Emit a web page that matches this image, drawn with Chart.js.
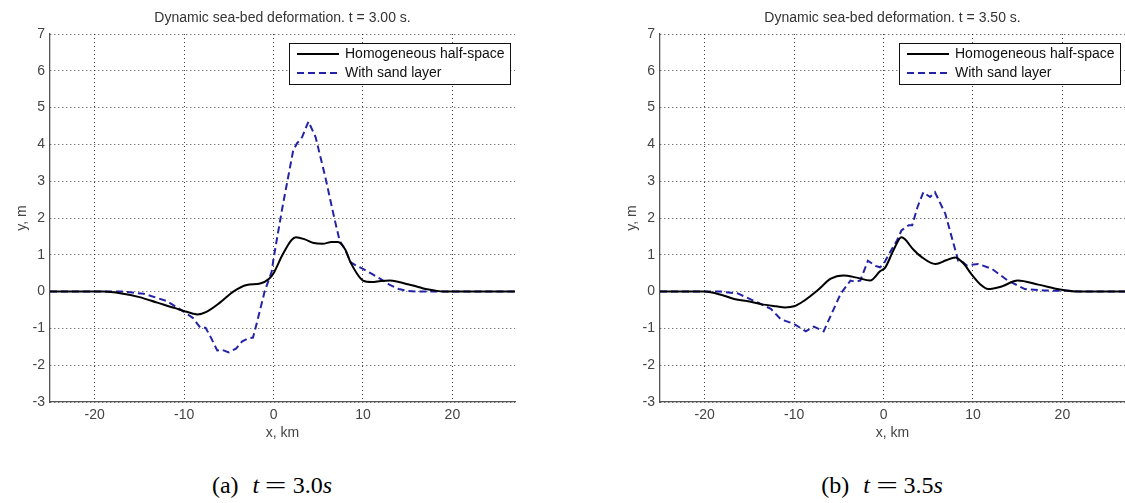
<!DOCTYPE html>
<html>
<head>
<meta charset="utf-8">
<script src="https://cdn.jsdelivr.net/npm/chart.js@4.4.0/dist/chart.umd.min.js"></script>
<style>
  html, body { margin: 0; padding: 0; background: #fff; }
  body { width: 1125px; height: 503px; position: relative; overflow: hidden; }
  .panel { position: absolute; top: 0; height: 450px; }
  #panelA { left: 0; width: 560px; }
  #panelB { left: 560px; width: 565px; }
  .caption {
    position: absolute; top: 472px;
    font-family: 'Liberation Serif', serif; font-size: 24px; color: #000;
    transform: translateX(-50%); white-space: nowrap;
  }
  .caption .sep { display: inline-block; width: 14px; }
  .caption .eq { display: inline-block; margin: 0 10px; transform: scaleX(1.6); }
</style>
</head>
<body>
<div class="panel" id="panelA"><canvas id="chartA"></canvas></div>
<div class="panel" id="panelB"><canvas id="chartB"></canvas></div>
<div class="caption" style="left:272px">(a)<span class="sep"></span><i>t</i><span class="eq">=</span>3.0<i>s</i></div>
<div class="caption" style="left:882px">(b)<span class="sep"></span><i>t</i><span class="eq">=</span>3.5<i>s</i></div>

<script>
// Datos (x en km, y en m)
const serieNombres = ['Homogeneous half-space', 'With sand layer'];
const xTicks = [-20, -10, 0, 10, 20];

// (a) t = 3.0 s
const homA_x = [-25, -19, -17, -15, -13, -11, -10, -9, -8.5, -7.5, -6, -4.5, -3, -1.5, -0.5, 0, 1, 2, 2.5, 3.5, 4.5, 5.5, 6.5, 7.2, 8, 8.6, 9.3, 10, 11, 12, 13, 14, 15, 16, 17, 18, 19, 27];
const homA_y = [0, 0, -0.05, -0.15, -0.3, -0.45, -0.53, -0.6, -0.62, -0.55, -0.3, 0, 0.18, 0.22, 0.35, 0.5, 1.0, 1.4, 1.48, 1.42, 1.32, 1.3, 1.35, 1.35, 1.15, 0.8, 0.5, 0.3, 0.26, 0.29, 0.3, 0.26, 0.2, 0.14, 0.07, 0.03, 0, 0];
const sandA_x = [-25, -19, -17, -16, -14.5, -12, -10, -9, -8.2, -7.6, -7, -6.3, -5.8, -5, -4.2, -3.5, -2.8, -2.3, -1.9, -1, -0.2, 0, 1, 2.2, 2.6, 3.2, 3.9, 4.7, 5.8, 6.7, 7.4, 8, 8.6, 9.3, 10, 11, 12, 13, 14, 15, 16, 27];
const sandA_y = [0, 0, 0, -0.02, -0.06, -0.25, -0.55, -0.72, -0.98, -0.98, -1.25, -1.6, -1.58, -1.65, -1.55, -1.35, -1.27, -1.25, -0.88, 0, 0.55, 0.9, 2.3, 3.84, 4.02, 4.2, 4.62, 4.2, 3.1, 2.1, 1.37, 1.15, 0.8, 0.7, 0.62, 0.48, 0.34, 0.18, 0.07, 0.02, 0, 0];

// (b) t = 3.5 s
const homB_x = [-25, -20, -18, -16.7, -15, -13.7, -12, -11, -10, -8.9, -7.4, -5.9, -4.5, -3, -1.5, -0.4, 0.2, 1.1, 2, 2.4, 3.3, 4.3, 5.8, 7, 8, 9, 9.8, 10.8, 11.7, 13.2, 15, 17.3, 19.9, 21.8, 27];
const homB_y = [0, 0, -0.1, -0.2, -0.27, -0.34, -0.4, -0.43, -0.4, -0.25, 0.03, 0.35, 0.44, 0.38, 0.3, 0.55, 0.66, 1.12, 1.48, 1.42, 1.15, 0.93, 0.75, 0.85, 0.93, 0.75, 0.48, 0.2, 0.07, 0.14, 0.3, 0.19, 0.05, 0, 0];
const sandB_x = [-25, -19, -18.2, -16.3, -14.5, -12.6, -11.5, -10, -8.7, -7.8, -6.7, -5.9, -4.8, -3.7, -3.2, -2.6, -1.75, -0.9, -0.4, 0, 0.8, 1.5, 2, 2.8, 3.2, 3.8, 4.45, 5.2, 5.75, 6.9, 8.35, 8.7, 9.3, 10.6, 12.1, 13.9, 15.8, 18, 20.5, 22, 27];
const sandB_y = [0, 0, 0, -0.05, -0.25, -0.47, -0.75, -0.88, -1.08, -0.95, -1.08, -0.65, -0.06, 0.3, 0.27, 0.3, 0.84, 0.7, 0.66, 0.75, 1.1, 1.39, 1.66, 1.8, 1.8, 2.3, 2.7, 2.57, 2.7, 2.12, 0.84, 0.84, 0.71, 0.75, 0.62, 0.3, 0.07, 0.03, 0.02, 0, 0];

let chartA, chartB;

Chart.defaults.font.family = "'Liberation Sans', Arial, sans-serif";
Chart.defaults.color = '#444';

const puntos = (xs, ys) => xs.map((x, i) => ({ x: x, y: ys[i] }));

// Leyenda con marco, dibujada dentro del área del gráfico (arriba a la derecha)
const leyendaCaja = {
    id: 'leyendaCaja',
    afterDraw(chart) {
        const { ctx, chartArea } = chart;
        const w = 221, h = 41;
        const left = chartArea.right - 5 - w;
        const top = chartArea.top + 9;

        ctx.save();
        ctx.fillStyle = '#fff';
        ctx.fillRect(left, top, w, h);
        ctx.strokeStyle = '#111';
        ctx.lineWidth = 1;
        ctx.strokeRect(left + 0.5, top + 0.5, w, h);

        ctx.font = "14px 'Liberation Sans', Arial, sans-serif";
        ctx.textBaseline = 'middle';
        chart.data.datasets.forEach((ds, i) => {
            const y = top + 11 + i * 19;
            ctx.beginPath();
            ctx.strokeStyle = ds.borderColor;
            ctx.lineWidth = ds.borderWidth;
            ctx.setLineDash(ds.borderDash || []);
            ctx.moveTo(left + 8, y);
            ctx.lineTo(left + 50, y);
            ctx.stroke();
            ctx.setLineDash([]);
            ctx.fillStyle = '#111';
            ctx.fillText(ds.label, left + 56, y);
        });
        ctx.restore();
    }
};

function crearDatasets(homX, homY, sandX, sandY) {
    return [
        {
            label: serieNombres[0],
            data: puntos(homX, homY),
            borderColor: '#000',
            borderWidth: 2,
            pointRadius: 0,
            cubicInterpolationMode: 'monotone'
        },
        {
            label: serieNombres[1],
            data: puntos(sandX, sandY),
            borderColor: '#2323a8',
            borderWidth: 2,
            borderDash: [7, 4],
            pointRadius: 0,
            tension: 0
        }
    ];
}

function opcionesPanel(titulo, padIzq, padDer) {
    return {
        responsive: true,
        maintainAspectRatio: false,
        animation: false,
        layout: { padding: { left: padIzq, right: padDer, top: 0, bottom: 0 } },
        plugins: {
            legend: { display: false },
            tooltip: { enabled: false },
            title: {
                display: true,
                text: titulo,
                fullSize: false,
                color: '#333',
                font: { size: 14, weight: 'normal' },
                padding: { top: 10, bottom: 7.2 }
            }
        },
        scales: {
            x: {
                type: 'linear',
                min: -25,
                max: 27,
                afterBuildTicks: (scale) => {
                    scale.ticks = xTicks.map(v => ({ value: v }));
                },
                afterFit: (scale) => { scale.height = 48; },
                ticks: { font: { size: 14 }, color: '#444', padding: 5, maxRotation: 0 },
                grid: { color: 'rgba(0,0,0,0.75)', lineWidth: 1, drawTicks: false },
                border: { color: '#555', width: 1.3, dash: [1, 3] },
                title: {
                    display: true, text: 'x, km', color: '#444',
                    font: { size: 14 }, padding: { top: 4, bottom: 8.6 }
                }
            },
            y: {
                min: -3,
                max: 7,
                afterFit: (scale) => { scale.width = 48; },
                ticks: { stepSize: 1, font: { size: 14 }, color: '#444', padding: 5 },
                grid: { color: 'rgba(0,0,0,0.75)', lineWidth: 1, drawTicks: false },
                border: { color: '#555', width: 1.3, dash: [1, 3] },
                title: {
                    display: true, text: 'y, m', color: '#444',
                    font: { size: 14 }, padding: { top: 12, bottom: 4 }
                }
            }
        }
    };
}

document.addEventListener('DOMContentLoaded', () => {
    chartA = new Chart(document.getElementById('chartA').getContext('2d'), {
        type: 'line',
        data: { datasets: crearDatasets(homA_x, homA_y, sandA_x, sandA_y) },
        options: opcionesPanel('Dynamic sea-bed deformation. t = 3.00 s.', 2, 45),
        plugins: [leyendaCaja]
    });

    chartB = new Chart(document.getElementById('chartB').getContext('2d'), {
        type: 'line',
        data: { datasets: crearDatasets(homB_x, homB_y, sandB_x, sandB_y) },
        options: opcionesPanel('Dynamic sea-bed deformation. t = 3.50 s.', 52, 0),
        plugins: [leyendaCaja]
    });
});
</script>
</body>
</html>
